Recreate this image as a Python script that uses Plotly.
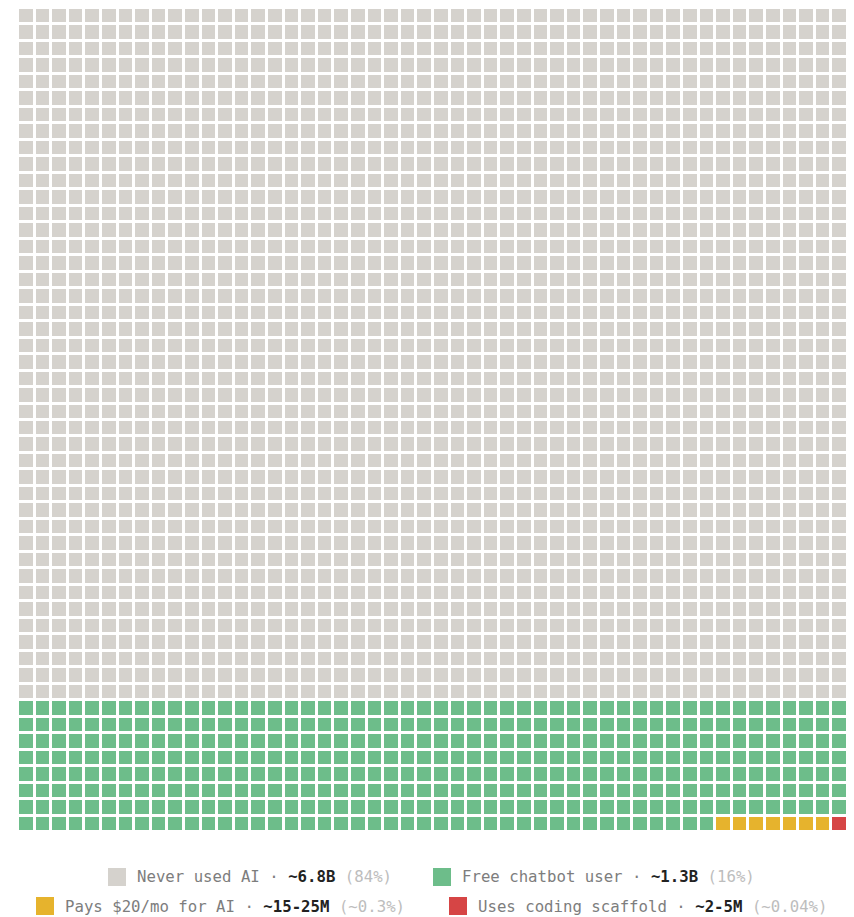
import plotly.graph_objects as go

# Waffle: 50 x 50 = 2500 cells, each cell = 0.04% of world population
categories = ["Never used AI", "Free chatbot user", "Pays $20/mo for AI", "Uses coding scaffold"]
cell_counts = [2100, 392, 7, 1]
amounts = ["~6.8B", "~1.3B", "~15-25M", "~2-5M"]
shares = ["(84%)", "(16%)", "(~0.3%)", "(~0.04%)"]
colors = ["#d5d2cd", "#6dbd8a", "#e6b32d", "#d64545"]
n_cols = 50
n_rows = 50

# build the grid in row-major order
flat = []
for i, c in enumerate(cell_counts):
    flat += [i] * c
z = [flat[r * n_cols:(r + 1) * n_cols] for r in range(n_rows)]
text = [[categories[v] for v in row] for row in z]

cs = []
n = len(colors)
for i, col in enumerate(colors):
    cs.append([i / n, col])
    cs.append([(i + 1) / n, col])

W, H = 846, 909
ML, MR, MT, MB = 10, 6, 0, 85

fig = go.Figure(go.Heatmap(
    z=z, x=list(range(n_cols)), y=list(range(n_rows)),
    colorscale=cs, zmin=-0.5, zmax=n - 0.5, showscale=False,
    xgap=3, ygap=3, text=text, hoverinfo="text",
))

fig.update_layout(
    width=W, height=H,
    margin=dict(l=ML, r=MR, t=MT, b=MB),
    paper_bgcolor="white", plot_bgcolor="white",
    xaxis=dict(visible=False, range=[-0.5, n_cols - 0.5], fixedrange=True),
    yaxis=dict(visible=False, range=[n_rows - 0.5, -0.5], fixedrange=True),
    font=dict(family="DejaVu Sans Mono", size=14, color="#888"),
)

# legend: two lines, two items each (swatch shape + rich-text annotation)
pw = W - ML - MR
ph = H - MT - MB
def px(x):
    return (x - ML) / pw
def py(y):
    return (H - MB - y) / ph

legend_pos = [  # (swatch left x, center y) in figure pixels
    (100, 869), (425, 869), (28, 898), (441, 898)
]
for i, (sx, cy) in enumerate(legend_pos):
    fig.add_shape(type="rect", xref="paper", yref="paper",
                  x0=px(sx), x1=px(sx + 18), y0=py(cy + 9), y1=py(cy - 9),
                  fillcolor=colors[i], line_width=0)
    label = (f"<span style='color:#7d7d7d'>{categories[i]} · </span>"
             f"<b><span style='color:#222222'>{amounts[i]}</span></b>"
             f"<span style='color:#bdbdbd'> {shares[i]}</span>")
    fig.add_annotation(xref="paper", yref="paper", x=px(sx + 27), y=py(cy),
                       xanchor="left", yanchor="middle", showarrow=False,
                       text=label, font=dict(size=15.7, family="DejaVu Sans Mono"))

fig.write_html("out.html")
